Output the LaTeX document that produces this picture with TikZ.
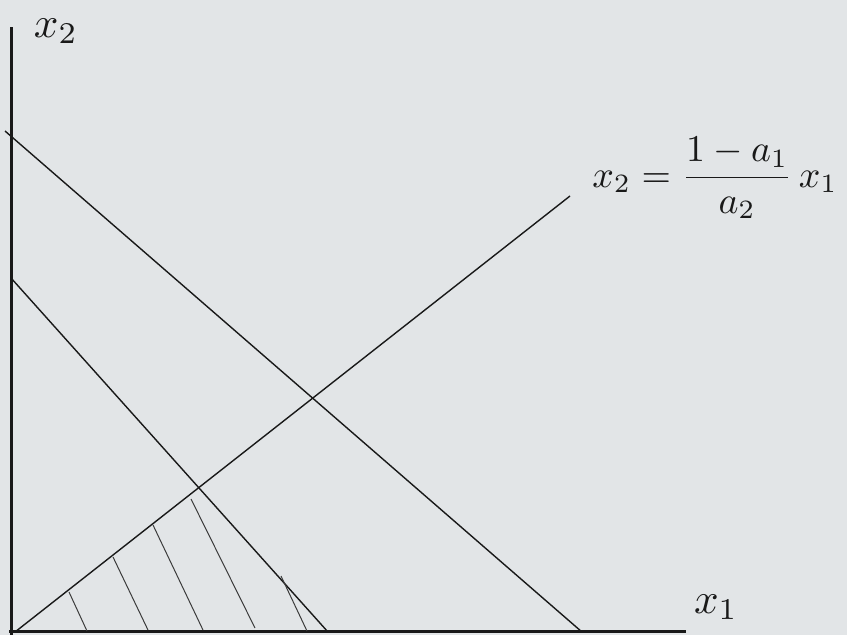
\documentclass[tikz,border=0pt]{standalone}
\usepackage{amsmath}
\usepackage{graphicx}
\definecolor{paper}{RGB}{226,229,231}
\definecolor{ink}{RGB}{25,25,25}
\begin{document}
\begin{tikzpicture}[x=1pt,y=-1pt,
  axis/.style={line width=3pt,ink},
  bound/.style={line width=1.4pt,ink},
  hatch/.style={line width=1pt,ink!85},
  lbl/.style={inner sep=0pt,text=ink}]
\fill[paper] (0,0) rectangle (847,635);
\useasboundingbox (0,0) rectangle (847,635);
% axes
\coordinate (ytop) at (11,27);
\coordinate (ybot) at (11,635);
\coordinate (xbeg) at (9,631);
\coordinate (xend) at (686,631);
\draw[axis] (ytop) -- (ybot);
\draw[axis] (xbeg) -- (xend);
% lines
\coordinate (u1) at (5,131);
\coordinate (u2) at (582,632);
\coordinate (l1) at (11,278);
\coordinate (l2) at (328,632);
\coordinate (r1) at (15,632);
\coordinate (r2) at (570,196);
\draw[bound] (u1) -- (u2);
\draw[bound] (l1) -- (l2);
\draw[bound] (r1) -- (r2);
% hatching
\coordinate (h1a) at (69,592); \coordinate (h1b) at (87,631);
\coordinate (h2a) at (113,557); \coordinate (h2b) at (148,630);
\coordinate (h3a) at (153,525); \coordinate (h3b) at (203,630);
\coordinate (h4a) at (191,499); \coordinate (h4b) at (255,628);
\coordinate (h5a) at (281,576); \coordinate (h5b) at (307,631);
\draw[hatch] (h1a) -- (h1b);
\draw[hatch] (h2a) -- (h2b);
\draw[hatch] (h3a) -- (h3b);
\draw[hatch] (h4a) -- (h4b);
\draw[hatch] (h5a) -- (h5b);
% labels
\node[lbl] (lx2) at (56,31) {\resizebox{44pt}{!}{$x_2$}};
\node[lbl] (lx1) at (716,607) {\resizebox{44pt}{!}{$x_1$}};
\node[lbl] (leq) at (715,178) {\resizebox{245pt}{!}{$\displaystyle x_2=\frac{1-a_1}{a_2}\,x_1$}};
\end{tikzpicture}
\end{document}
